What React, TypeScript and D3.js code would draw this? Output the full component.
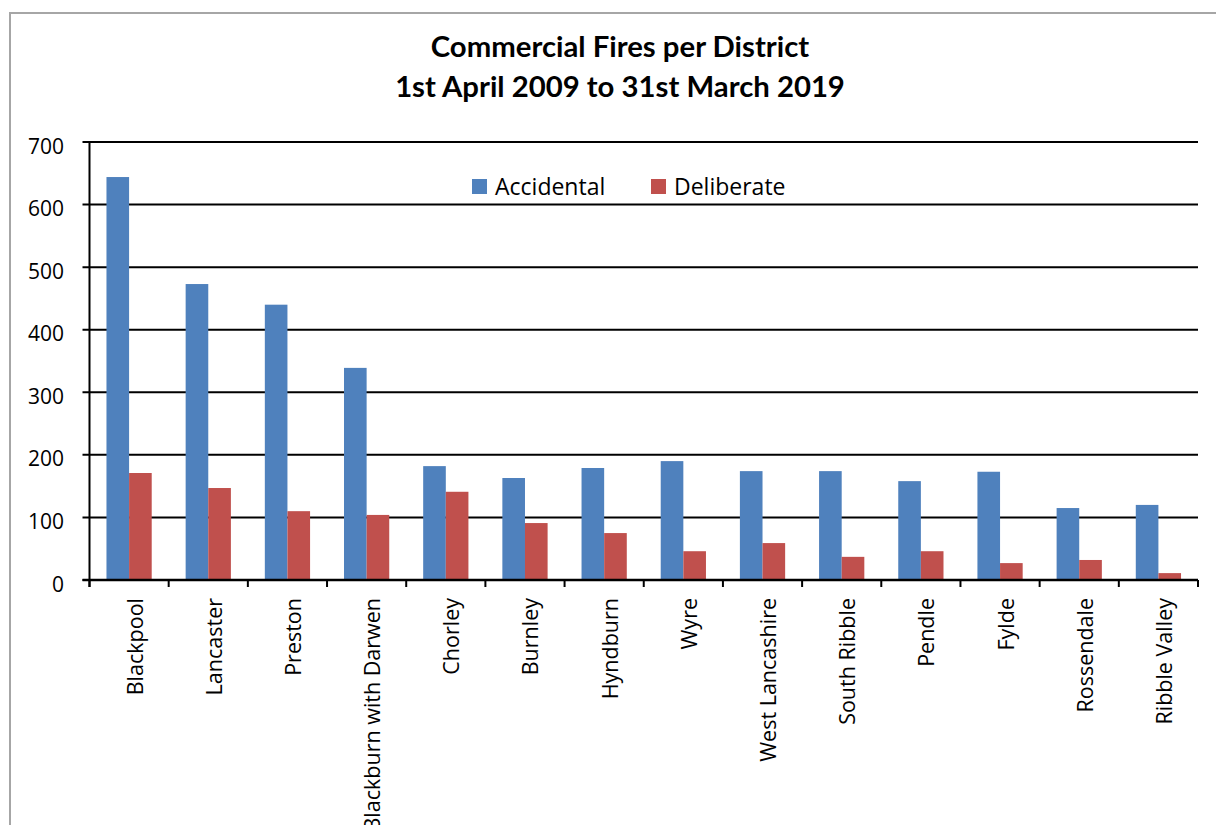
import React from "react";
import * as d3 from "d3";

const districts = [
  "Blackpool",
  "Lancaster",
  "Preston",
  "Blackburn with Darwen",
  "Chorley",
  "Burnley",
  "Hyndburn",
  "Wyre",
  "West Lancashire",
  "South Ribble",
  "Pendle",
  "Fylde",
  "Rossendale",
  "Ribble Valley",
];
const accidental = [644, 473, 440, 339, 182, 163, 179, 190, 174, 174, 158, 173, 115, 120];
const deliberate = [171, 147, 110, 104, 141, 91, 75, 46, 59, 37, 46, 27, 32, 11];
const yTicks = [0, 100, 200, 300, 400, 500, 600, 700];
const seriesNames = ["Accidental", "Deliberate"];
const seriesColors = ["#4F81BD", "#C0504D"];
const titleLines = ["Commercial Fires per District", "1st April 2009 to 31st March 2019"];

const W = 1216;
const H = 825;
const left = 89.5;
const right = 1198;
const top = 142;
const bottom = 580;
const font = "'Open Sans', 'Segoe UI', sans-serif";
const titleFont = "Lato, 'Open Sans', sans-serif";

export default function App() {
  const x = d3.scaleBand<string>().domain(districts).range([left, right]).padding(0);
  const y = d3.scaleLinear().domain([0, 700]).range([bottom, top]);
  const step = x.step();
  const bw = step / 3.5;
  const series = [accidental, deliberate];

  return (
    <svg
      width={W}
      height={H}
      style={{ position: "absolute", left: 0, top: 0, background: "#fff" }}
    >
      <rect x={0} y={0} width={W} height={H} fill="#fff" />
      <rect x={10} y={13} width={1400} height={1000} fill="#fff" stroke="#a6a6a6" strokeWidth={2} />

      {titleLines.map((t, i) => (
        <text
          key={i}
          x={620}
          y={57 + i * 40}
          textAnchor="middle"
          fontFamily={titleFont}
          fontWeight="bold"
          fontSize={29.3}
          fill="#000"
        >
          {t}
        </text>
      ))}

      {/* gridlines */}
      {yTicks.map((t) => (
        <line key={"g" + t} x1={left - 7} x2={right} y1={y(t)} y2={y(t)} stroke="#000" strokeWidth={2} />
      ))}

      {/* bars */}
      {districts.map((d, i) =>
        series.map((s, j) => (
          <rect
            key={d + j}
            x={(x(d) as number) + 0.75 * bw + j * bw}
            y={y(s[i])}
            width={bw}
            height={bottom - y(s[i])}
            fill={seriesColors[j]}
          />
        ))
      )}

      {/* axes */}
      <line x1={left} x2={left} y1={top} y2={bottom + 7} stroke="#000" strokeWidth={2} />
      <line x1={left - 7} x2={right} y1={bottom} y2={bottom} stroke="#000" strokeWidth={2.5} />
      {d3.range(districts.length + 1).map((i) => (
        <line
          key={"xt" + i}
          x1={left + i * step}
          x2={left + i * step}
          y1={bottom}
          y2={bottom + 7}
          stroke="#000"
          strokeWidth={2}
        />
      ))}

      {/* y tick labels */}
      {yTicks.map((t) => (
        <text
          key={"yl" + t}
          x={64}
          y={y(t) + 6}
          textAnchor="end"
          dominantBaseline="middle"
          fontFamily={font}
          fontSize={21}
          fill="#000"
        >
          {t}
        </text>
      ))}

      {/* x labels */}
      {districts.map((d) => {
        const cx = (x(d) as number) + step / 2;
        return (
          <text
            key={"xl" + d}
            transform={`translate(${cx + 13.5},${598}) rotate(-90)`}
            textAnchor="end"
            fontFamily={font}
            fontSize={21.5}
            fill="#000"
          >
            {d}
          </text>
        );
      })}

      {/* legend */}
      {seriesNames.map((n, j) => {
        const lx = j === 0 ? 472 : 651;
        return (
          <g key={n}>
            <rect x={lx} y={179} width={15} height={15} fill={seriesColors[j]} />
            <text x={lx + 23} y={195} fontFamily={font} fontSize={23} fill="#000">
              {n}
            </text>
          </g>
        );
      })}
    </svg>
  );
}
